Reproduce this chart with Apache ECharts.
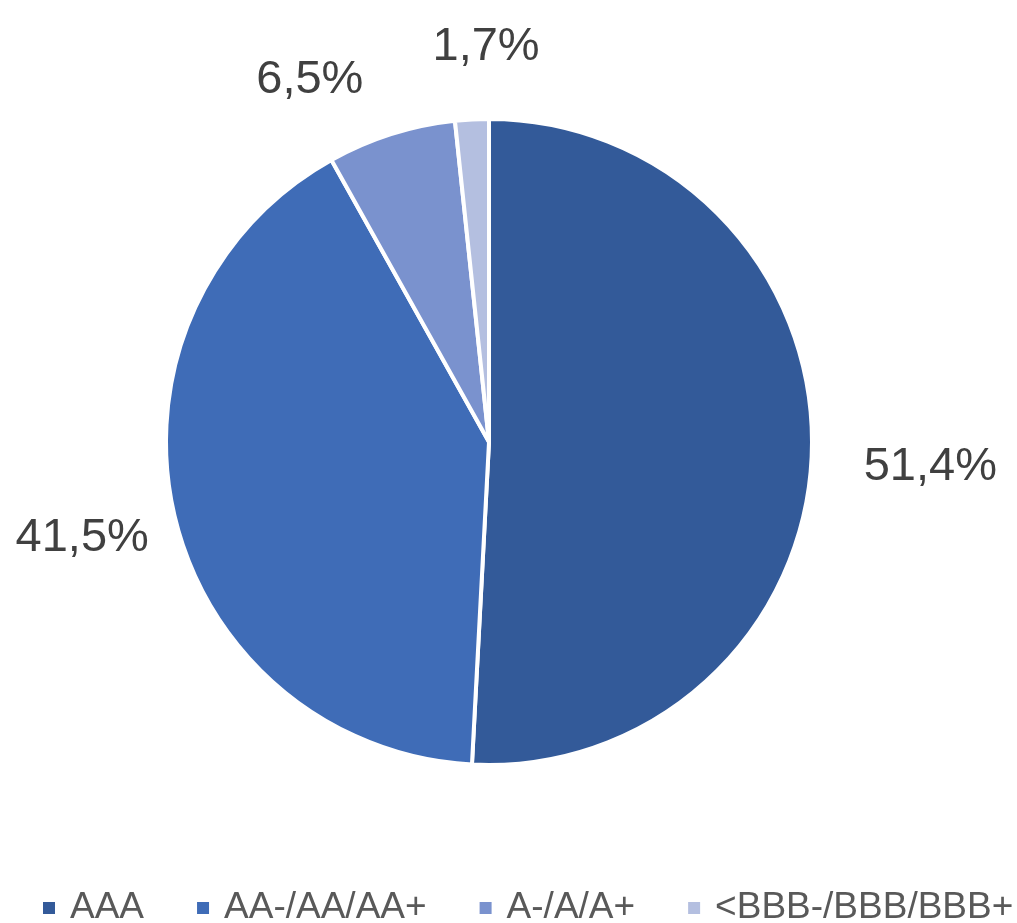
<!DOCTYPE html>
<html>
<head>
<meta charset="utf-8">
<script src="https://cdn.jsdelivr.net/npm/echarts@6/dist/echarts.min.js"></script>
<style>
  html, body { margin: 0; padding: 0; background: #ffffff; }
  #chart { width: 1017px; height: 923px; }
</style>
</head>
<body>
<div id="chart"></div>
<script>
// Rating buckets and their share of the portfolio (%)
const ratings = ['AAA', 'AA-/AA/AA+', 'A-/A/A+', '<BBB-/BBB/BBB+'];
const shares = [51.4, 41.5, 6.5, 1.7];

const sliceColors = ['#335A99', '#3F6CB7', '#7A92CE', '#B4BFE0'];
const FONT = '"Liberation Sans", Arial, Helvetica, sans-serif';

// Pie geometry
const CX = 489, CY = 442, R = 323;
// Label placement: angular shift (deg) from the slice's mid angle, distance from the centre (px)
const labelPlace = [[1.7, 442], [-0.2, 418], [-8.7, 404], [2.6, 395]];

// Mid angle of each slice, clockwise from 12 o'clock, as the pie normalises the values
const total = shares.reduce((a, b) => a + b, 0);
const midAngles = [];
let acc = 0;
shares.forEach(v => { midAngles.push((acc + v / 2) / total * 360); acc += v; });

const fmt = v => v.toFixed(1).replace('.', ',') + '%';

const chart = echarts.init(document.getElementById('chart'), null, { renderer: 'canvas' });
chart.setOption({
  animation: false,
  backgroundColor: '#ffffff',
  color: sliceColors,
  legend: {
    show: true,
    selectedMode: false,
    left: 43,
    top: 888,
    width: 990,
    padding: 0,
    itemGap: 53,
    itemWidth: 12,
    itemHeight: 12,
    icon: 'rect',
    itemStyle: { borderWidth: 0 },
    data: ratings,
    textStyle: {
      fontFamily: FONT,
      fontSize: 37,
      lineHeight: 40,
      color: '#595959',
      padding: [0, 0, 0, 10]
    }
  },
  series: [{
    type: 'pie',
    center: [CX, CY],
    radius: R,
    startAngle: 90,
    clockwise: true,
    avoidLabelOverlap: false,
    emphasis: { disabled: true },
    itemStyle: { borderColor: '#ffffff', borderWidth: 4 },
    label: {
      show: true,
      position: 'outside',
      formatter: p => fmt(p.value),
      fontFamily: FONT,
      fontSize: 47,
      color: '#404040'
    },
    labelLine: { show: false },
    labelLayout: function (p) {
      const i = p.dataIndex;
      const a = (midAngles[i] + labelPlace[i][0]) * Math.PI / 180;
      const d = labelPlace[i][1];
      return {
        x: CX + d * Math.sin(a),
        y: CY - d * Math.cos(a),
        align: 'center',
        verticalAlign: 'middle'
      };
    },
    data: ratings.map((name, i) => ({ name: name, value: shares[i] }))
  }]
});
</script>
</body>
</html>
